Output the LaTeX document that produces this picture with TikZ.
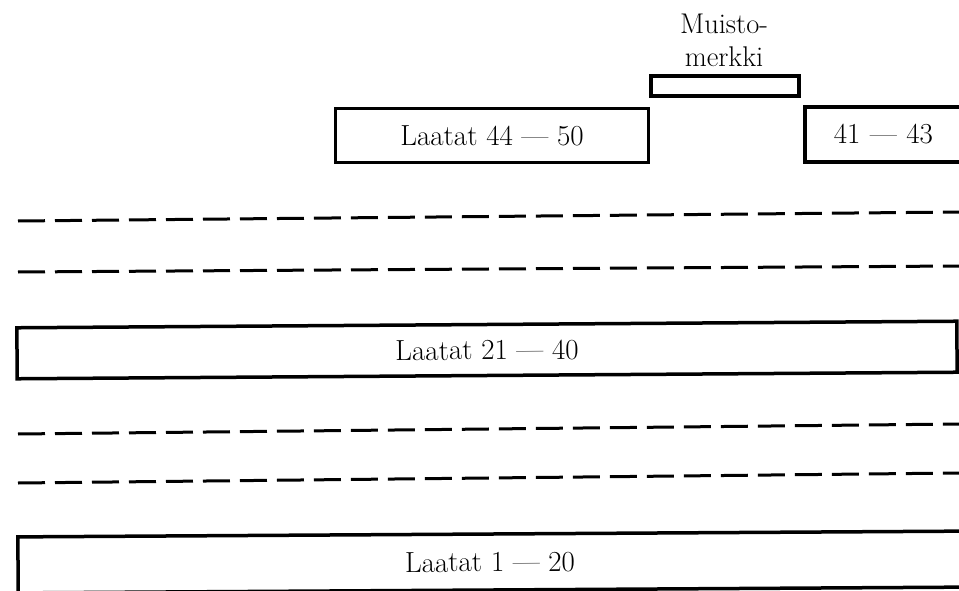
\documentclass[tikz,border=0pt]{standalone}
\usepackage{fontspec}
\setmainfont{Latin Modern Roman}
\begin{document}
\begin{tikzpicture}[x=1pt,y=-1pt,
  box/.style={draw, line width=3.5pt, inner sep=0pt, font=\fontsize{29}{34}\selectfont},
  lane/.style={line width=3pt, dash pattern=on 27pt off 10pt},
  lbl/.style={font=\fontsize{28.5}{33}\selectfont, align=center, inner sep=0pt}]
\useasboundingbox (0,0) rectangle (959,591);
\clip (0,0) rectangle (959,591);
% monument
\node[lbl] (mtext) at (724,40) {Muisto-\\merkki};
\node[box, minimum width=148pt, minimum height=20pt] (monument) at (725,86) {};
% upper tiles
\node[box, minimum width=313pt, minimum height=54pt] (t4450) at (492,135.5) {Laatat 44 --- 50};
\node[box, minimum width=170pt, minimum height=55pt, anchor=west, text width=162pt, align=left] (t4143) at (803,134.5) {\hspace{25pt}41 --- 43};
% dashed rows
\coordinate (d1a) at (18,221); \coordinate (d1b) at (959,212);
\coordinate (d2a) at (18,272); \coordinate (d2b) at (959,266);
\coordinate (d3a) at (18,434); \coordinate (d3b) at (959,424);
\coordinate (d4a) at (18,483); \coordinate (d4b) at (959,473);
\draw[lane] (d1a) -- (d1b);
\draw[lane] (d2a) -- (d2b);
\draw[lane] (d3a) -- (d3b);
\draw[lane] (d4a) -- (d4b);
% long tiles
\node[box, minimum width=940pt, minimum height=51pt, rotate=0.4] (t2140) at (487,350) {Laatat 21 --- 40};
\node[box, minimum width=950pt, minimum height=56pt, rotate=0.35] (t120) at (493,562) {\hspace{-6pt}Laatat 1 --- 20};
\end{tikzpicture}
\end{document}
